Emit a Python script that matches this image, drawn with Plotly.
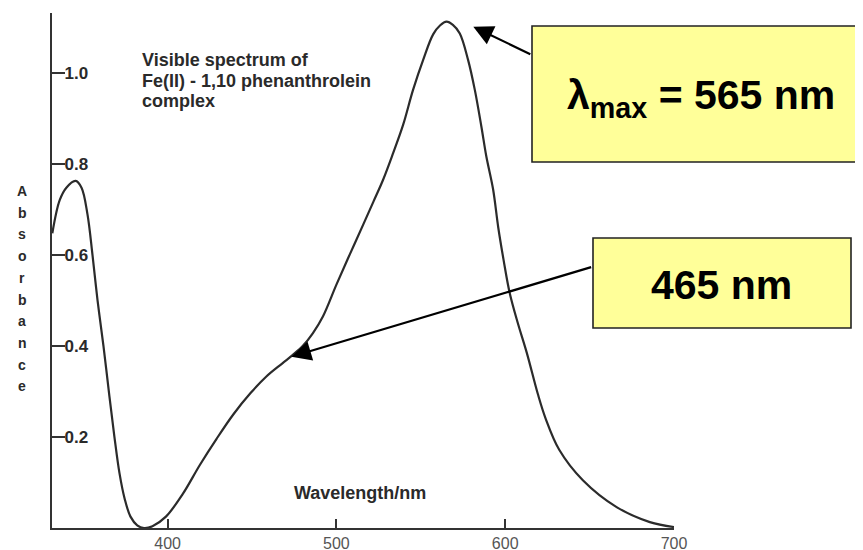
import plotly.graph_objects as go

# ---- data ----
wavelength_nm = [331.7, 336, 340, 345.5, 349, 352.5, 355.5, 358.5, 362, 365.5, 368.5, 371.5, 374.5,
                 378, 382, 386, 391, 399, 409, 419, 429, 439, 449, 458.5, 468, 474, 480, 486,
                 492, 500, 508, 516, 522, 527.6, 533.6, 539.5, 545.4, 551.4, 557.3, 561.5, 565.2, 569,
                 573.1, 578, 582, 585.9, 588.8, 592.8, 595.9, 599, 602.7, 607.5, 612.8, 619.3, 624,
                 632, 646, 666, 685.7, 700]
absorbance = [0.648, 0.72, 0.748, 0.763, 0.748, 0.69, 0.60, 0.50, 0.40, 0.29, 0.20, 0.12, 0.065,
              0.025, 0.006, 0.0, 0.004, 0.025, 0.075, 0.138, 0.196, 0.25, 0.296, 0.333, 0.362, 0.38,
              0.40, 0.428, 0.465, 0.535, 0.602, 0.668, 0.718, 0.765, 0.824, 0.886, 0.963, 1.029, 1.085,
              1.105, 1.113, 1.106, 1.087, 1.029, 0.963, 0.882, 0.817, 0.745, 0.66, 0.59, 0.516, 0.45,
              0.385, 0.295, 0.24, 0.172, 0.105, 0.046, 0.013, 0.002]

x_ticks = [400, 500, 600, 700]
y_ticks = [0.2, 0.4, 0.6, 0.8, 1.0]
y_title_letters = list("Absorbance")
title_lines = ["Visible spectrum of", "Fe(II) - 1,10 phenanthrolein", "complex"]
lambda_max_label = "λ<sub>max</sub> = 565 nm"
shoulder_label = "465 nm"
peak_point = (581.1, 1.102)      # arrow tip near the main peak
shoulder_point = (473.3, 0.3765)  # arrow tip at the shoulder

# page layout (the page body adds an 8px offset to the figure)
OFF = 8
W, H = 863, 550
P_LEFT, P_RIGHT, P_TOP, P_BOTTOM = 52, 674, 13, 528   # plot area in page pixels
ML, MT = P_LEFT - OFF, P_TOP - OFF
MR, MB = W - (P_RIGHT - OFF), H - (P_BOTTOM - OFF)
PW, PH = P_RIGHT - P_LEFT, P_BOTTOM - P_TOP


def px(xp):
    return (xp - P_LEFT) / PW


def py(yp):
    return (P_BOTTOM - yp) / PH


fig = go.Figure()
fig.add_trace(go.Scatter(
    x=wavelength_nm, y=absorbance, mode="lines",
    line=dict(color="#2b2b2b", width=2.2, shape="spline", smoothing=1.0),
    hoverinfo="skip", showlegend=False,
))

ink = "#2a2a2a"
annotations = []
# title inside chart
for i, t in enumerate(title_lines):
    annotations.append(dict(xref="paper", yref="paper", x=px(140), y=py(60 + i * 20.5),
                            xanchor="left", yanchor="middle", text=t, showarrow=False,
                            font=dict(family="Liberation Sans, Arial", size=18, color=ink,
                                      weight="bold")))
# stacked y-axis title
for i, ch in enumerate(y_title_letters):
    annotations.append(dict(xref="paper", yref="paper", x=px(22), y=py(191 + i * 21.7),
                            xanchor="center", yanchor="middle", text=ch, showarrow=False,
                            font=dict(family="Liberation Sans, Arial", size=14, color=ink,
                                      weight="bold")))
# x-axis title
annotations.append(dict(xref="paper", yref="paper", x=px(292), y=py(493), xanchor="left",
                        yanchor="middle", text="Wavelength/nm", showarrow=False,
                        font=dict(family="Liberation Sans, Arial", size=18, color=ink,
                                  weight="bold")))
# boxed labels
annotations.append(dict(xref="paper", yref="paper", x=px(701), y=py(98), xanchor="center",
                        yanchor="middle", text=lambda_max_label, showarrow=False,
                        font=dict(family="Liberation Sans, Arial", size=41, color="#000",
                                  weight="bold")))
annotations.append(dict(xref="paper", yref="paper", x=px(721.5), y=py(285), xanchor="center",
                        yanchor="middle", text=shoulder_label, showarrow=False,
                        font=dict(family="Liberation Sans, Arial", size=41, color="#000",
                                  weight="bold")))
# arrows
annotations.append(dict(xref="x", yref="y", x=peak_point[0], y=peak_point[1], ax=58.5, ay=28.3,
                        text="", showarrow=True, arrowhead=2, arrowsize=1.8, arrowwidth=2.2,
                        arrowcolor="#000", standoff=0, startstandoff=0))
annotations.append(dict(xref="x", yref="y", x=shoulder_point[0], y=shoulder_point[1], ax=301.3,
                        ay=-90, text="", showarrow=True, arrowhead=2, arrowsize=1.8,
                        arrowwidth=2.2, arrowcolor="#000", standoff=0, startstandoff=0))

shapes = [
    dict(type="rect", xref="paper", yref="paper", x0=px(532), x1=px(880), y0=py(162), y1=py(26),
         fillcolor="#FFFF99", line=dict(color="#222", width=1.6), layer="below"),
    dict(type="rect", xref="paper", yref="paper", x0=px(593), x1=px(851), y0=py(328), y1=py(238),
         fillcolor="#FFFF99", line=dict(color="#222", width=1.6), layer="below"),
]

fig.update_layout(
    width=W, height=H,
    margin=dict(l=ML, r=MR, t=MT, b=MB, pad=0, autoexpand=False),
    paper_bgcolor="white", plot_bgcolor="white",
    showlegend=False,
    annotations=annotations,
    shapes=shapes,
    xaxis=dict(range=[331.5, 700], tickvals=x_ticks, ticktext=[str(v) for v in x_ticks],
               ticks="inside", ticklen=9, tickwidth=2, tickcolor="#333", automargin=False,
               showline=True, linecolor="#333", linewidth=2, showgrid=False, zeroline=False,
               tickfont=dict(family="Liberation Sans, Arial", size=16, color="#555")),
    yaxis=dict(range=[0, 1.132], tickvals=y_ticks, ticktext=[f"{v:.1f}" for v in y_ticks],
               ticks="inside", ticklen=13, tickwidth=2, tickcolor="#333", automargin=False,
               ticklabelposition="inside", showline=True, linecolor="#333", linewidth=2,
               showgrid=False, zeroline=False,
               tickfont=dict(family="Liberation Sans, Arial", size=17, color=ink, weight="bold")),
)

fig.write_html("out.html")
